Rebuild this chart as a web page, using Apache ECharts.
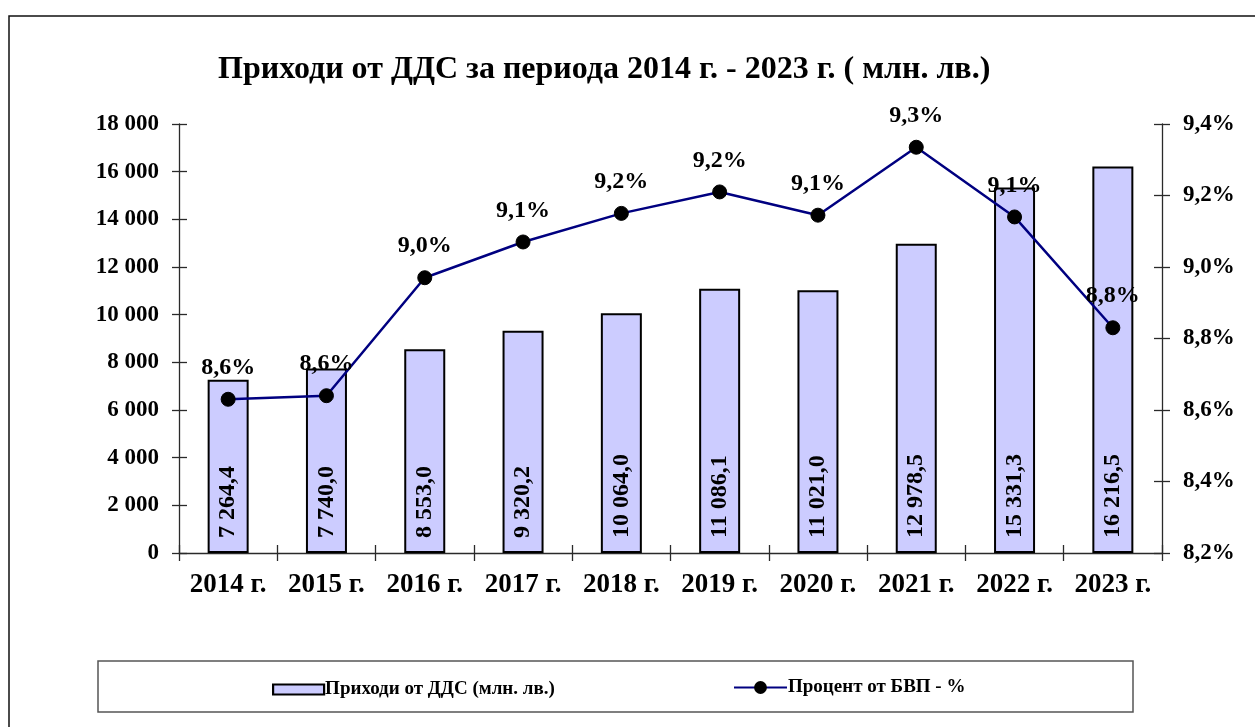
<!DOCTYPE html>
<html>
<head>
<meta charset="utf-8">
<script src="https://cdn.jsdelivr.net/npm/echarts@6/dist/echarts.min.js"></script>
<style>
    html, body { margin: 0; padding: 0; background: #fff; }
    #chart { width: 1255px; height: 727px; }
</style>
</head>
<body>
<div id="chart"></div>
<script>
const years = ['2014 г.', '2015 г.', '2016 г.', '2017 г.', '2018 г.', '2019 г.', '2020 г.', '2021 г.', '2022 г.', '2023 г.'];
const vatRevenue = [7264.4, 7740.0, 8553.0, 9320.2, 10064.0, 11086.1, 11021.0, 12978.5, 15331.3, 16216.5];
const gdpShare = [8.63, 8.64, 8.97, 9.07, 9.15, 9.21, 9.145, 9.335, 9.14, 8.83];

const barName = 'Приходи от ДДС (млн. лв.)';
const lineName = 'Процент от БВП - %';
const font = '"Liberation Serif", "Times New Roman", serif';

// 7264.4 -> "7 264,4"
function fmtNum(v, digits) {
    const parts = v.toFixed(digits).split('.');
    const intPart = parts[0].replace(/\B(?=(\d{3})+(?!\d))/g, ' ');
    return parts.length > 1 ? intPart + ',' + parts[1] : intPart;
}

const axisColor = '#2a2a2a';

const chart = echarts.init(document.getElementById('chart'), null, { renderer: 'canvas' });

chart.setOption({
    animation: false,
    backgroundColor: '#fff',
    title: {
        text: 'Приходи от ДДС за периода 2014 г. - 2023 г. ( млн. лв.)',
        left: 213,
        top: 49,
        textStyle: { fontFamily: font, fontSize: 32, fontWeight: 'bold', color: '#000' }
    },
    graphic: [
        {
            type: 'rect', silent: true,
            shape: { x: 9, y: 16, width: 1300, height: 800 },
            style: { fill: 'none', stroke: '#111', lineWidth: 1.5 }
        },
        {
            type: 'rect', silent: true,
            shape: { x: 98, y: 661, width: 1035, height: 51 },
            style: { fill: 'none', stroke: '#555', lineWidth: 1.5 }
        }
    ],
    legend: [
        {
            data: [{ name: barName, icon: 'rect' }],
            left: 272, top: 680,
            padding: 0,
            itemWidth: 51, itemHeight: 10,
            itemStyle: { borderColor: '#000', borderWidth: 2.2 },
            textStyle: { fontFamily: font, fontSize: 19, fontWeight: 'bold', color: '#000', padding: [0, 0, 0, -4] }
        },
        {
            data: [lineName],
            left: 733, top: 678,
            padding: 0,
            itemWidth: 53, itemHeight: 16,
            textStyle: { fontFamily: font, fontSize: 19, fontWeight: 'bold', color: '#000', padding: [0, 0, 0, -4] }
        }
    ],
    grid: { left: 179, right: 93, top: 124, bottom: 174 },
    xAxis: [
        {
            type: 'category',
            data: years,
            axisLine: { lineStyle: { color: axisColor, width: 1.3 } },
            axisTick: { show: true, interval: 0, length: 8, lineStyle: { color: axisColor, width: 1.3 } },
            axisLabel: { interval: 0, fontFamily: font, fontSize: 27, fontWeight: 'bold', color: '#000', margin: 19 }
        },
        {
            type: 'category',
            data: years,
            position: 'bottom',
            axisLine: { show: false },
            axisTick: { show: true, interval: 0, inside: true, length: 8, lineStyle: { color: axisColor, width: 1.3 } },
            axisLabel: { show: false }
        }
    ],
    yAxis: [
        {
            type: 'value',
            position: 'left',
            min: 0, max: 18000, interval: 2000,
            splitLine: { show: false },
            axisLine: { show: true, lineStyle: { color: axisColor, width: 1.3 } },
            axisTick: { show: true, length: 7, lineStyle: { color: axisColor, width: 1.3 } },
            axisLabel: {
                fontFamily: font, fontSize: 23, fontWeight: 'bold', color: '#000', margin: 20,
                formatter: v => fmtNum(v, 0)
            }
        },
        {
            type: 'value',
            position: 'right',
            min: 8.2, max: 9.4, interval: 0.2,
            splitLine: { show: false },
            axisLine: { show: true, lineStyle: { color: axisColor, width: 1.3 } },
            axisTick: { show: true, length: 8, lineStyle: { color: axisColor, width: 1.3 } },
            axisLabel: {
                fontFamily: font, fontSize: 23, fontWeight: 'bold', color: '#000', margin: 21,
                formatter: v => fmtNum(v, 1) + '%'
            }
        },
        {
            type: 'value',
            position: 'left',
            min: 0, max: 18000, interval: 2000,
            splitLine: { show: false },
            axisLine: { show: false },
            axisTick: { show: true, inside: true, length: 8, lineStyle: { color: axisColor, width: 1.3 } },
            axisLabel: { show: false }
        },
        {
            type: 'value',
            position: 'right',
            min: 8.2, max: 9.4, interval: 0.2,
            splitLine: { show: false },
            axisLine: { show: false },
            axisTick: { show: true, inside: true, length: 8, lineStyle: { color: axisColor, width: 1.3 } },
            axisLabel: { show: false }
        }
    ],
    series: [
        {
            name: barName,
            type: 'bar',
            xAxisIndex: 0,
            yAxisIndex: 0,
            barWidth: 41,
            itemStyle: { color: '#CCCCFF', borderColor: '#000', borderWidth: 2 },
            label: {
                show: true,
                position: 'insideBottom',
                rotate: 90,
                align: 'left',
                verticalAlign: 'middle',
                distance: 15,
                fontFamily: font, fontSize: 24, fontWeight: 'bold', color: '#000',
                formatter: p => fmtNum(p.value, 1)
            },
            data: vatRevenue
        },
        {
            name: lineName,
            type: 'line',
            xAxisIndex: 0,
            yAxisIndex: 1,
            symbol: 'circle',
            symbolSize: 14,
            lineStyle: { color: '#000080', width: 2.5 },
            itemStyle: { color: '#000', borderColor: '#000' },
            label: {
                show: true,
                position: 'top',
                distance: 12,
                fontFamily: font, fontSize: 24, fontWeight: 'bold', color: '#000',
                formatter: p => fmtNum(p.value, 1) + '%'
            },
            z: 5,
            data: gdpShare
        }
    ]
});
</script>
</body>
</html>
